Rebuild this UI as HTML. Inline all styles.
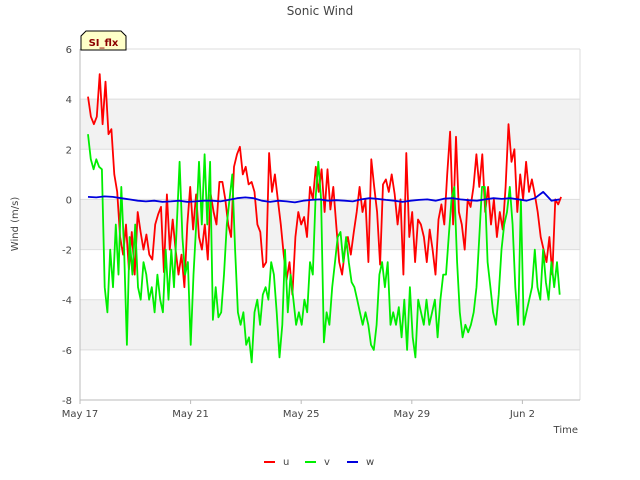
<!DOCTYPE html>
<html><head><meta charset="utf-8"><style>
body{margin:0;background:#fff;}
svg{display:block;font-family:"DejaVu Sans","Liberation Sans",sans-serif;}
</style></head><body>
<svg id="chart" width="640" height="480">
<text x="320" y="15" text-anchor="middle" font-size="12" fill="#444">Sonic Wind</text>
<g id="bands"></g>
<g id="grid"></g>
<g id="yticks"></g>
<g id="xticks"></g>
<g id="series"></g>
<text transform="translate(18,224) rotate(-90)" text-anchor="middle" font-size="10" fill="#444">Wind (m/s)</text>
<text x="578" y="433" text-anchor="end" font-size="10" fill="#444">Time</text>
<g>
<path d="M81,50 L81,36 L86,31 L121,31 L126,36 L126,50 Z" fill="#ffffc8" stroke="#000" stroke-width="1"/>
<text x="103.5" y="46" text-anchor="middle" font-size="10" font-weight="bold" fill="#8b0000">SI_flx</text>
</g>
<g id="legend"></g>
</svg>
<script>
const yTicks=[-8,-6,-4,-2,0,2,4,6];
const xTickLabels=["May 17","May 21","May 25","May 29","Jun 2"];
const xTickDays=[0,4,8,12,16];
const uStart=0.29, uEnd=17.4;
const uVals=[4.1,3.3,3.0,3.3,5.0,3.0,4.7,2.6,2.8,1.0,0.3,-1.5,-2.2,-1.0,-2.8,-1.3,-3.0,-0.5,-1.3,-2.0,-1.4,-2.2,-2.4,-1.0,-0.6,-0.3,-2.9,0.2,-2.0,-0.8,-2.0,-3.0,-2.2,-3.5,-1.0,0.5,-1.2,0.2,-1.5,-2.0,-1.0,-2.4,0.2,-0.5,-1.0,0.7,0.7,0.0,-1.0,-1.5,1.3,1.8,2.1,1.0,1.3,0.6,0.7,0.3,-1.0,-1.3,-2.7,-2.5,1.85,0.3,1.0,0.0,-1.0,-2.2,-3.2,-2.5,-3.8,-1.5,-0.5,-1.0,-0.7,-1.5,0.5,0.0,1.3,0.3,1.2,-0.5,1.2,-0.4,0.5,-1.0,-2.5,-3.0,-2.0,-1.5,-2.2,-1.3,-0.5,0.5,-0.5,0.0,-2.5,1.6,0.5,-0.5,-2.6,0.6,0.8,0.3,1.0,0.2,-1.0,0.0,-3.0,1.85,-1.5,-0.5,-2.5,-0.8,-1.0,-1.5,-2.5,-1.2,-2.0,-3.0,-0.8,-0.2,-1.0,1.0,2.7,-1.0,2.5,-0.5,-1.0,-2.0,0.0,-0.3,0.5,1.8,0.5,1.8,-0.5,0.5,-1.0,0.0,-1.5,-0.5,-1.2,0.5,3.0,1.5,2.0,-0.5,1.0,0.0,1.5,0.3,0.8,0.2,-0.5,-1.5,-2.0,-2.5,-1.5,-3.0,0.0,-0.2,0.1];
const vStart=0.29, vEnd=17.35;
const vVals=[2.6,1.6,1.2,1.6,1.3,1.2,-3.5,-4.5,-2.0,-3.5,-1.0,-3.0,0.5,-2.0,-5.8,-1.5,-3.0,-1.0,-3.5,-4.0,-2.5,-3.0,-4.0,-3.5,-4.5,-3.0,-4.0,-4.5,-2.0,-4.0,-2.0,-3.5,-1.0,1.5,-1.5,-3.0,-2.5,-5.8,-3.0,-1.0,1.5,-1.0,1.8,-1.0,1.5,-4.8,-3.5,-4.7,-4.5,-3.0,-1.0,0.0,1.0,-2.0,-4.5,-5.0,-4.5,-5.8,-5.5,-6.5,-4.5,-4.0,-5.0,-3.8,-3.5,-4.0,-2.5,-3.0,-4.5,-6.3,-5.0,-2.0,-4.5,-3.0,-4.0,-5.0,-4.5,-5.0,-4.0,-4.5,-2.5,-3.0,0.0,1.5,0.0,-5.7,-4.5,-5.0,-3.5,-2.5,-1.5,-1.3,-2.5,-1.5,-2.5,-3.3,-3.5,-4.0,-4.5,-5.0,-4.5,-5.0,-5.8,-6.0,-5.0,-3.0,-2.5,-3.5,-2.5,-5.0,-4.5,-5.0,-4.3,-5.5,-4.0,-6.0,-3.5,-5.5,-6.3,-4.0,-4.5,-5.0,-4.0,-5.0,-4.5,-4.0,-5.5,-4.0,-3.0,-3.0,-1.5,0.0,0.5,-2.5,-4.5,-5.5,-5.0,-5.3,-5.0,-4.5,-3.5,-1.5,0.5,0.5,-2.5,-3.5,-4.5,-5.0,-3.8,-2.0,-1.0,-0.5,0.5,-1.0,-3.5,-5.0,0.0,-5.0,-4.5,-4.0,-3.5,-2.0,-3.5,-4.0,-2.0,-3.3,-4.0,-2.5,-3.5,-2.5,-3.8];
const wStart=0.29, wEnd=17.35;
const wVals=[0.1,0.08,0.12,0.1,0.05,0.0,-0.05,-0.08,-0.05,-0.1,-0.08,-0.05,-0.1,-0.08,-0.05,-0.05,-0.08,-0.02,0.05,0.08,0.05,-0.05,-0.1,-0.05,-0.08,-0.12,-0.05,-0.02,0.0,-0.05,-0.03,-0.05,-0.08,0.0,0.05,0.02,-0.02,-0.05,-0.1,-0.05,-0.02,0.0,-0.05,0.03,0.05,0.0,-0.03,-0.05,0.0,0.05,0.02,0.05,0.0,-0.05,0.05,0.3,-0.05,0.0];
const NS="http://www.w3.org/2000/svg";
const L=80,R=580,T=49,B=400,yMin=-8,yMax=6,dMax=(580-80)/27.65;
function xs(d){return L+(d/dMax)*(R-L);}
function ys(v){return B-(v-yMin)/(yMax-yMin)*(B-T);}
function mk(tag,attrs,parent){const e=document.createElementNS(NS,tag);for(const k in attrs)e.setAttribute(k,attrs[k]);parent.appendChild(e);return e;}
const bands=document.getElementById('bands');
[[2,4],[-2,0],[-6,-4]].forEach(b=>{
 const r=mk('rect',{x:L,y:ys(b[1]),width:R-L,height:ys(b[0])-ys(b[1]),fill:'#f2f2f2'},bands);
 
 
});
const grid=document.getElementById('grid'),yt=document.getElementById('yticks'),xt=document.getElementById('xticks');
yTicks.forEach(v=>{
 const g=mk('line',{x1:L,x2:R,y1:ys(v),y2:ys(v),stroke:'#dddddd','stroke-width':1},grid);
 
 
 const t=mk('text',{x:72,y:ys(v)+4,'text-anchor':'end','font-size':10,fill:'#444'},yt);
 t.textContent=v;
 
 
});
mk('line',{x1:R,x2:R,y1:T,y2:B,stroke:'#dddddd'},grid);
const ax=mk('line',{x1:L,x2:L,y1:T,y2:B,stroke:'#bbb'},grid);


const bx=mk('line',{x1:L,x2:R,y1:B,y2:B,stroke:'#bbb'},grid);


xTickDays.forEach((d,i)=>{
 mk('line',{x1:xs(d),x2:xs(d),y1:B,y2:B+4,stroke:'#bbb'},xt);
 const t=mk('text',{x:xs(d),y:417,'text-anchor':'middle','font-size':10,fill:'#444'},xt);
 t.textContent=xTickLabels[i];
 
 
});
const ser=document.getElementById('series');
function line(vals,s,e,color,name){
 const step=(e-s)/(vals.length-1);
 const pts=vals.map((v,i)=>xs(s+i*step).toFixed(1)+','+ys(v).toFixed(1)).join(' ');
 const p=mk('polyline',{points:pts,fill:'none',stroke:color,'stroke-width':1.8,'stroke-linejoin':'round'},ser);
 
 
}
line(uVals,uStart,uEnd,'#ff0000','series-u');
line(vVals,vStart,vEnd,'#00ee00','series-v');
line(wVals,wStart,wEnd,'#0000dd','series-w');
const leg=document.getElementById('legend');
[['u','#ff0000',264],['v','#00ee00',305],['w','#0000dd',347]].forEach(it=>{
 const g=mk('g',{},leg);
 
 
 mk('line',{x1:it[2],x2:it[2]+11,y1:462,y2:462,stroke:it[1],'stroke-width':2},g);
 const t=mk('text',{x:it[2]+19,y:465,'font-size':10,fill:'#444'},g);
 t.textContent=it[0];
});
</script>
</body></html>
